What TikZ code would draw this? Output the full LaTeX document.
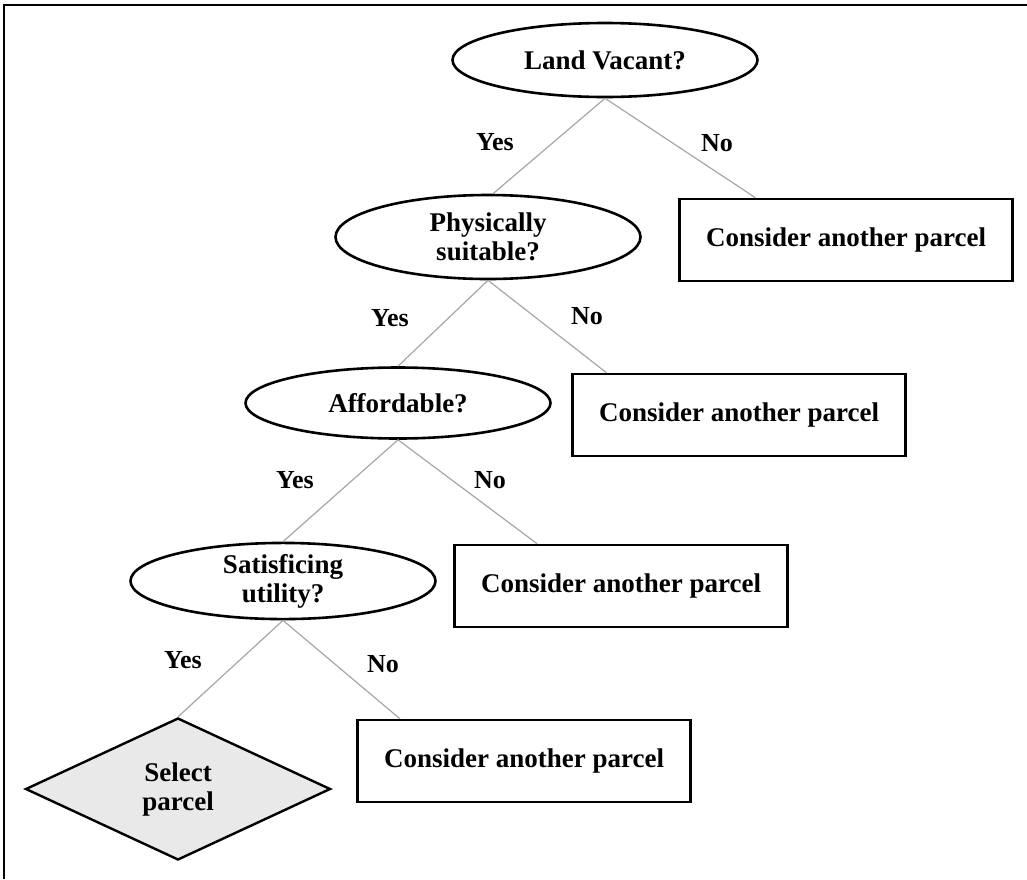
\documentclass[tikz,border=0pt]{standalone}
\usepackage{fontspec}
\setmainfont{Liberation Serif}
\usepackage{tikz}
\usetikzlibrary{shapes.geometric,positioning,calc}
\tikzset{
	question/.style={
		ellipse,
		line width=2.6pt,
		draw=black,
		inner sep=0pt,
		minimum width=305pt,
		align=center,
		font=\fontsize{27}{29}\selectfont\bfseries,
	},
	parcel/.style={
		rectangle,
		line width=2.6pt,
		draw=black,
		minimum width=333pt,
		minimum height=82pt,
		font=\fontsize{27}{29}\selectfont\bfseries,
	},
	select/.style={
		diamond,
		line width=2.4pt,
		draw=black,
		fill=gray!17,
		inner sep=0pt,
		minimum width=305pt,
		minimum height=142pt,
		align=center,
		font=\fontsize{27}{29}\selectfont\bfseries,
	},
	answer/.style={
		font=\fontsize{26}{28}\selectfont\bfseries,
	},
	branch/.style={
		draw=gray!70,
		line width=1.2pt,
	},
}
\begin{document}
\begin{tikzpicture}[x=1pt, y=-1pt]
				\useasboundingbox (0,0) rectangle (1027,879);
				\draw[line width=2pt] (4,879) -- (4,5) -- (1027,5);
				% nodes
				\node [question, minimum height=74pt] (Q1) at (605,60) {Land Vacant?};
				\node [question, minimum height=84pt] (Q2) at (488,237) {Physically\\suitable?};
				\node [question, minimum height=71pt] (Q3) at (398,403) {Affordable?};
				\node [question, minimum height=71pt] (Q4) at (283,581) {Satisficing\\utility?};
				\node [select] (S) at (178,789) {Select\\parcel};
				\node [parcel] (C1) at (846,240) {Consider another parcel};
				\node [parcel] (C2) at (739,415) {Consider another parcel};
				\node [parcel] (C3) at (621,586) {Consider another parcel};
				\node [parcel] (C4) at (524,761) {Consider another parcel};
				
				% labels
				\node [answer] (Y1) at (495,142) {Yes};
				\node [answer] (N1) at (717,143) {No};
				\node [answer] (Y2) at (390,318) {Yes};
				\node [answer] (N2) at (587,316) {No};
				\node [answer] (Y3) at (295,480) {Yes};
				\node [answer] (N3) at (490,480) {No};
				\node [answer] (Y4) at (183,660) {Yes};
				\node [answer] (N4) at (383,664) {No};
				
				%branches
				\path[branch] (Q1.south) -- ($(Q2.north)+(5,0)$);
				\path[branch] (Q1.south) -- ($(C1.north west)!.23!(C1.north east)$);
				\path[branch] (Q2.south) -- (Q3.north);
				\path[branch] (Q2.south) -- ($(C2.north west)!.105!(C2.north east)$);
				\path[branch] (Q3.south) -- (Q4.north);
				\path[branch] (Q3.south) -- ($(C3.north west)!.25!(C3.north east)$);
				\path[branch] (Q4.south) -- (S.north);
				\path[branch] (Q4.south) -- ($(C4.north west)!.13!(C4.north east)$);
			\end{tikzpicture}
\end{document}
